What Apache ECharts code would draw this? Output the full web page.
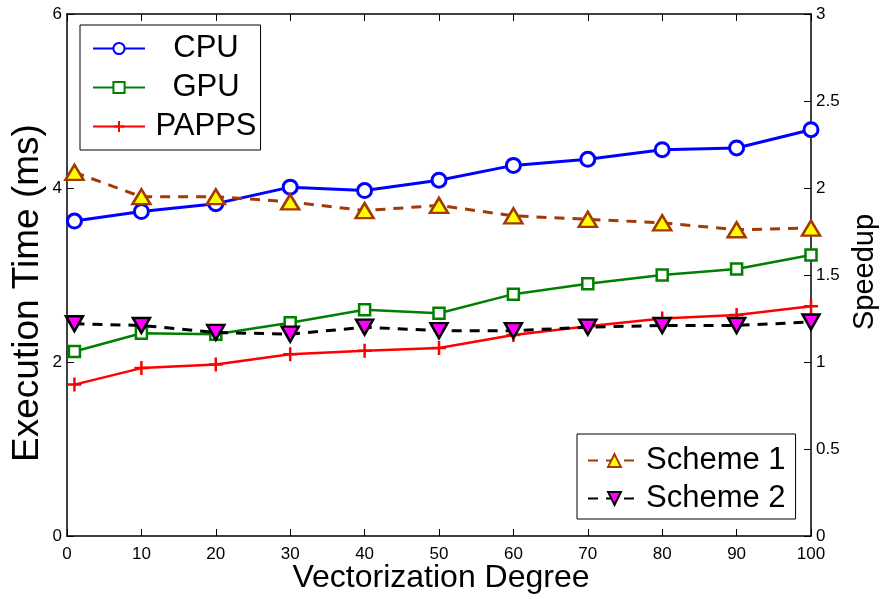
<!DOCTYPE html>
<html>
<head>
<meta charset="utf-8">
<script src="https://cdn.jsdelivr.net/npm/echarts@6/dist/echarts.min.js"></script>
<style>
  html, body { margin: 0; padding: 0; background: #fff; overflow: hidden; }
  #chart { width: 882px; height: 599px; }
</style>
</head>
<body>
<div id="chart"></div>
<script>
// Vectorization degree sampled at each run
const degrees = [1, 10, 20, 30, 40, 50, 60, 70, 80, 90, 100];

// Execution times (ms), left axis
const cpuTime   = [3.62, 3.73, 3.82, 4.01, 3.97, 4.09, 4.26, 4.33, 4.44, 4.46, 4.67];
const gpuTime   = [2.12, 2.33, 2.32, 2.45, 2.60, 2.56, 2.78, 2.90, 3.00, 3.07, 3.23];
const pappsTime = [1.74, 1.93, 1.97, 2.09, 2.13, 2.16, 2.31, 2.41, 2.50, 2.54, 2.64];

// Speedups, right axis
const scheme1Speedup = [2.09, 1.95, 1.95, 1.92, 1.87, 1.90, 1.84, 1.82, 1.80, 1.76, 1.77];
const scheme2Speedup = [1.22, 1.21, 1.17, 1.16, 1.20, 1.18, 1.18, 1.20, 1.21, 1.21, 1.23];

const pairs = (ys) => degrees.map((x, i) => [x, ys[i]]);

const FONT = 'Liberation Sans, Arial, sans-serif';
const tickText = { color: '#000', fontFamily: FONT, fontSize: 17 };
const axisLine = { show: true, onZero: false, lineStyle: { color: '#000', width: 1.5 } };
const tick = { show: true, inside: true, length: 7, lineStyle: { color: '#000', width: 1 } };

const chart = echarts.init(document.getElementById('chart'), null, { renderer: 'canvas', width: 882, height: 599 });

chart.setOption({
  animation: false,
  backgroundColor: '#fff',
  grid: { left: 67, right: 71, top: 14, bottom: 63, containLabel: false, outerBoundsMode: 'none' },
  xAxis: [
    {
      type: 'value', min: 0, max: 100, interval: 10,
      name: 'Vectorization Degree', nameLocation: 'middle', nameGap: 26, nameMoveOverlap: false,
      nameTextStyle: { color: '#000', fontFamily: FONT, fontSize: 32, padding: [0, 0, 0, 4] },
      axisLine: axisLine,
      axisTick: tick,
      axisLabel: Object.assign({ margin: 10 }, tickText),
      splitLine: { show: false }
    },
    {
      type: 'value', min: 0, max: 100, interval: 10, position: 'top',
      axisLine: axisLine,
      axisTick: tick,
      axisLabel: { show: false },
      splitLine: { show: false }
    }
  ],
  yAxis: [
    {
      type: 'value', min: 0, max: 6, interval: 2, position: 'left',
      name: 'Execution Time (ms)', nameLocation: 'middle', nameGap: 21, nameMoveOverlap: false,
      nameTextStyle: { color: '#000', fontFamily: FONT, fontSize: 37, padding: [0, 36, 0, 0] },
      axisLine: axisLine,
      axisTick: tick,
      axisLabel: Object.assign({ margin: 5 }, tickText),
      splitLine: { show: false }
    },
    {
      type: 'value', min: 0, max: 3, interval: 0.5, position: 'right',
      name: 'Speedup', nameLocation: 'middle', nameGap: 38,
      nameTextStyle: { color: '#000', fontFamily: FONT, fontSize: 29, padding: [0, 0, 0, 6] },
      axisLine: axisLine,
      axisTick: tick,
      axisLabel: Object.assign({ margin: 5 }, tickText),
      splitLine: { show: false }
    }
  ],
  legend: [
    {
      data: ['CPU', 'GPU', 'PAPPS'],
      orient: 'vertical', left: 80, top: 25,
      padding: [8, 4, 8, 12], itemGap: 8, itemWidth: 52, itemHeight: 14,
      backgroundColor: '#fff', borderColor: '#000', borderWidth: 1,
      formatter: (n) => '{c|' + n + '}',
      textStyle: {
        fontFamily: FONT, fontSize: 31, color: '#000',
        rich: { c: { fontFamily: FONT, fontSize: 31, color: '#000', width: 112, align: 'center' } }
      }
    },
    {
      data: ['Scheme 1', 'Scheme 2'],
      orient: 'vertical', left: 577, top: 434,
      padding: [11, 10, 5, 10], itemGap: 7, itemWidth: 53, itemHeight: 16,
      backgroundColor: '#fff', borderColor: '#000', borderWidth: 1,
      textStyle: { fontFamily: FONT, fontSize: 31, color: '#000' }
    }
  ],
  series: [
    {
      name: 'CPU', type: 'line', xAxisIndex: 0, yAxisIndex: 0,
      data: pairs(cpuTime),
      symbol: 'circle', symbolSize: 14,
      lineStyle: { color: '#0000ff', width: 3 },
      itemStyle: { color: '#fff', borderColor: '#0000ff', borderWidth: 3 },
      z: 2
    },
    {
      name: 'GPU', type: 'line', xAxisIndex: 0, yAxisIndex: 0,
      data: pairs(gpuTime),
      symbol: 'rect', symbolSize: 11,
      lineStyle: { color: '#008000', width: 2.5 },
      itemStyle: { color: '#fff', borderColor: '#008000', borderWidth: 2.5 },
      z: 2
    },
    {
      name: 'PAPPS', type: 'line', xAxisIndex: 0, yAxisIndex: 0,
      data: pairs(pappsTime),
      symbol: 'path://M0,5 L10,5 M5,0 L5,10', symbolSize: 14,
      lineStyle: { color: '#ff0000', width: 2.5 },
      itemStyle: { color: '#ff0000', borderColor: '#ff0000', borderWidth: 2.5 },
      z: 2
    },
    {
      name: 'Scheme 1', type: 'line', xAxisIndex: 0, yAxisIndex: 1,
      data: pairs(scheme1Speedup),
      symbol: 'triangle', symbolSize: [18, 15],
      lineStyle: { color: '#a33a06', width: 3, type: [10, 8] },
      itemStyle: { color: '#ffff00', borderColor: '#a33a06', borderWidth: 2.5 },
      z: 3
    },
    {
      name: 'Scheme 2', type: 'line', xAxisIndex: 0, yAxisIndex: 1,
      data: pairs(scheme2Speedup),
      symbol: 'triangle', symbolRotate: 180, symbolSize: [17, 15],
      lineStyle: { color: '#000', width: 3, type: [10, 8] },
      itemStyle: { color: '#ff00ff', borderColor: '#000', borderWidth: 2.5 },
      z: 3
    }
  ]
});
</script>
</body>
</html>
